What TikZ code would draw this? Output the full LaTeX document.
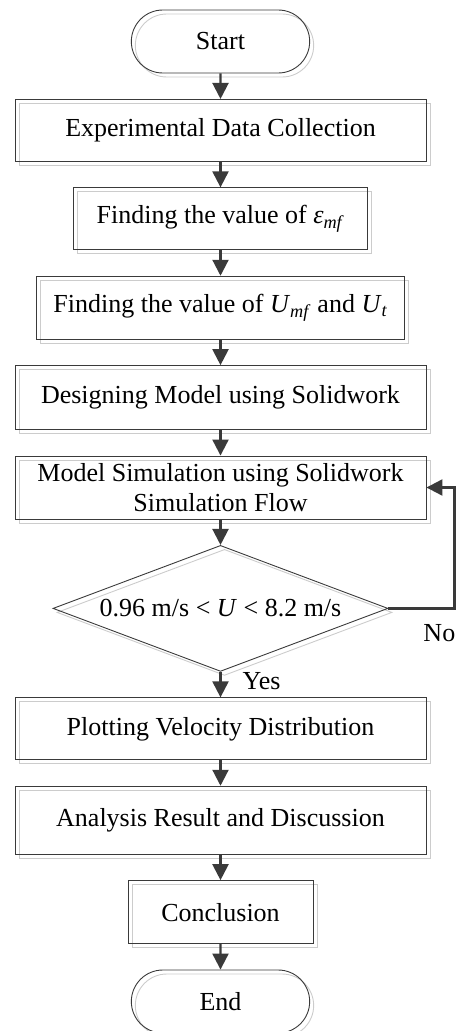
\documentclass[tikz,border=0pt]{standalone}
\usepackage{fontspec}
\setmainfont{Liberation Serif}
\usetikzlibrary{shapes,shapes.geometric,shapes.misc,arrows.meta,positioning,shadows,calc}
\definecolor{linegray}{HTML}{3A3A3A}
\definecolor{shadegray}{HTML}{CCCCCC}

\begin{document}
\begin{tikzpicture}[
    x=1pt,y=1pt,node distance=25.5pt,
    font=\fontsize{26}{30}\selectfont,
    >={Triangle[length=16pt,width=16pt]},
    boxshadow/.style={copy shadow={shadow xshift=4pt,shadow yshift=-4pt,draw=shadegray,fill=none}},
    terminal/.style={rounded rectangle,draw=linegray,line width=0.9pt,minimum width=185pt,minimum height=63pt,boxshadow},
    process/.style={rectangle,draw=linegray,line width=0.9pt,minimum height=62pt,align=center,boxshadow},
    decision/.style={diamond,draw=linegray,line width=0.9pt,aspect=2.66,inner sep=1pt,minimum width=335pt,minimum height=126pt,boxshadow},
    flow/.style={->,draw=linegray,line width=2.2pt}]
    \useasboundingbox (0,0) rectangle (457,-1031);

    \node[terminal] (start) at (220.5,-41.5) {Start};
    \node[process,minimum width=411pt] (collect) [below=of start] {Experimental Data Collection};
    \node[process,minimum width=294pt] (eps) [below=of collect] {Finding the value of \textit{ε}\textsubscript{\textit{mf}}};
    \node[process,minimum width=368pt,minimum height=63pt] (umf) [below=of eps] {Finding the value of \textit{U}\textsubscript{\textit{mf}} and \textit{U}\textsubscript{\textit{t}}};
    \node[process,minimum width=411pt,minimum height=64pt] (design) [below=of umf] {Designing Model using Solidwork};
    \node[process,minimum width=411pt,minimum height=63pt] (sim) [below=of design] {Model Simulation using Solidwork\\Simulation Flow};
    \node[decision] (dec) [below=of sim] {0.96 m/s < \textit{U} < 8.2 m/s};
    \node[process,minimum width=411pt] (plot) [below=of dec] {Plotting Velocity Distribution};
    \node[process,minimum width=411pt,minimum height=68pt] (analysis) [below=of plot] {Analysis Result and Discussion};
    \node[process,minimum width=185pt,minimum height=63pt] (concl) [below=of analysis] {Conclusion};
    \node[terminal] (end) [below=of concl] {End};

    \foreach \a/\b in {start/collect,collect/eps,eps/umf,umf/design,design/sim,sim/dec,dec/plot,plot/analysis,analysis/concl,concl/end}
        \draw[flow] (\a) -- (\b);

    % loop back when the velocity is out of range
    \draw[flow] (dec.east) -- ++(66,0) coordinate (bend) |- (sim.east);
    \node[anchor=north east,inner sep=0pt] (no) at ([shift={(1pt,-16pt)}]bend) {No};
    \node[anchor=north west,inner sep=0pt] (yes) at ([xshift=22pt]dec.south) {Yes};
\end{tikzpicture}
\end{document}
